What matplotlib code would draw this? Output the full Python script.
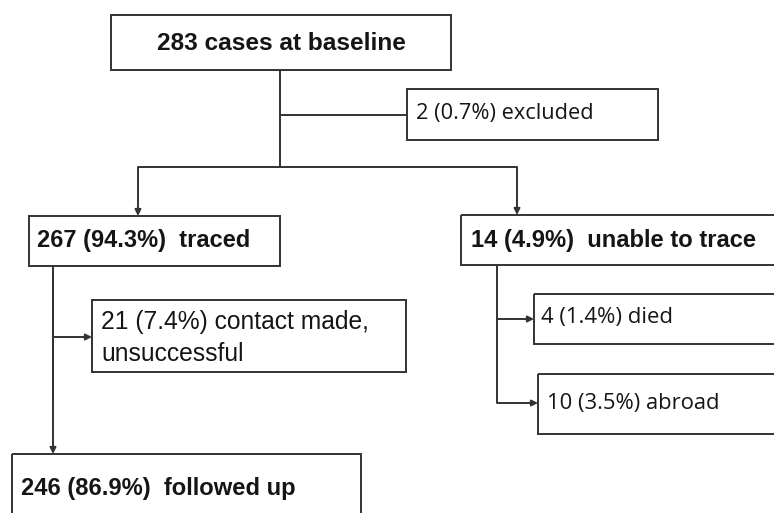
import matplotlib
matplotlib.use("Agg")
import matplotlib.pyplot as plt
from matplotlib.patches import Rectangle

# ---- data (flowchart content) ----
baseline_label = "283 cases at baseline"
excluded_label = "2 (0.7%) excluded"
traced_label = "267 (94.3%)  traced"
untraced_label = "14 (4.9%)  unable to trace"
unsuccessful_label = "21 (7.4%) contact made,\nunsuccessful"
died_label = "4 (1.4%) died"
abroad_label = "10 (3.5%) abroad"
followed_label = "246 (86.9%)  followed up"

ARIAL = ['Liberation Sans', 'DejaVu Sans']
SEGOE = ['Open Sans', 'DejaVu Sans']
EC = '#333333'
LW = 1.4

fig = plt.figure(figsize=(7.74, 5.13), dpi=100)
ax = fig.add_axes([0, 0, 1, 1])
ax.set_xlim(0, 774)
ax.set_ylim(513, 0)
ax.axis('off')


def box(x0, y0, x1, y1, text, bold=False, align='left', tx=None, ty=None,
        size=15.5, fam=ARIAL, ls=1.2):
    ax.add_patch(Rectangle((x0, y0), x1 - x0, y1 - y0, fill=False,
                           edgecolor=EC, linewidth=LW, clip_on=False))
    if align == 'center':
        xx, ha = (x0 + x1) / 2, 'center'
    else:
        xx, ha = tx, 'left'
    yy = (y0 + y1) / 2 if ty is None else ty
    ax.text(xx, yy, text, ha=ha, va='center', fontsize=size,
            fontweight='bold' if bold else 'normal', family=fam,
            color='#151515', linespacing=ls)


def line(xs, ys):
    ax.plot(xs, ys, color=EC, linewidth=LW, solid_capstyle='butt')


def arrow(x0, y0, x1, y1):
    ax.annotate('', xy=(x1, y1), xytext=(x0, y0),
                arrowprops=dict(arrowstyle='-|>', color=EC, lw=LW,
                                mutation_scale=9, shrinkA=0, shrinkB=0))


# boxes
box(111, 15, 451, 70, baseline_label, bold=True, align='center', ty=43, size=17.6)
box(407, 89, 658, 140, excluded_label, tx=416, ty=114, size=15.7, fam=SEGOE)
box(29, 216, 280, 266, traced_label, bold=True, tx=37, ty=241, size=17.0)
box(461, 215, 790, 265, untraced_label, bold=True, tx=471, ty=240, size=17.1)
box(92, 300, 406, 372, unsuccessful_label, tx=101, ty=338, size=17.7, ls=1.45)
box(534, 294, 790, 344, died_label, tx=541, ty=318, size=15.9, fam=SEGOE)
box(538, 374, 790, 434, abroad_label, tx=547, ty=403, size=15.8, fam=SEGOE)
box(12, 454, 361, 540, followed_label, bold=True, tx=21, ty=488, size=17.1)

# connectors
line([280, 280], [70, 167])
line([280, 407], [115, 115])
line([138, 517], [167, 167])
arrow(138, 167, 138, 216)
arrow(517, 167, 517, 215)

line([53, 53], [266, 400])
arrow(53, 266, 53, 454)
arrow(53, 337, 92, 337)

line([497, 497], [265, 403])
arrow(497, 319, 534, 319)
arrow(497, 403, 538, 403)

fig.savefig('out.png', dpi=100, facecolor='white')
